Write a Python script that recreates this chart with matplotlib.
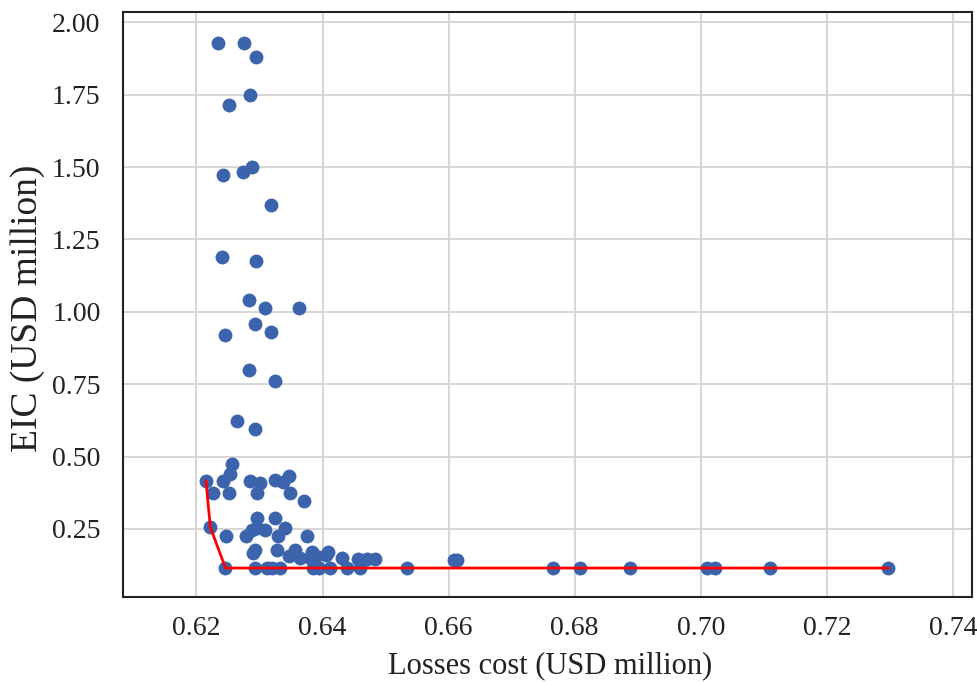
import matplotlib
matplotlib.use("Agg")
import matplotlib.pyplot as plt

# Candidate solutions: losses cost vs EIC (both USD million)
losses_cost = [
    0.6234, 0.6276, 0.6295, 0.6285, 0.6252, 0.6288, 0.6274, 0.6242, 0.6318,
    0.6240, 0.6295, 0.6283, 0.6308, 0.6363, 0.6293, 0.6245, 0.6318, 0.6283,
    0.6325, 0.6264, 0.6293,
    0.6257, 0.6253, 0.6215, 0.6242, 0.6285, 0.6301, 0.6324, 0.6338, 0.6346,
    0.6226, 0.6251, 0.6296, 0.6348, 0.6371,
    0.6222, 0.6296, 0.6325, 0.6296, 0.6309, 0.6288, 0.6278, 0.6247, 0.6330,
    0.6340, 0.6375,
    0.6293, 0.6290, 0.6328, 0.6357, 0.6383, 0.6409, 0.6346, 0.6365, 0.6390,
    0.6431, 0.6457, 0.6483, 0.6470, 0.6405, 0.6380, 0.6608, 0.6614,
    0.6246, 0.6293, 0.6312, 0.6320, 0.6333, 0.6385, 0.6395, 0.6412, 0.6439,
    0.6460, 0.6534, 0.6765, 0.6809, 0.6888, 0.7010, 0.7023, 0.7110, 0.7297,
]
eic = [
    1.929, 1.929, 1.881, 1.750, 1.715, 1.500, 1.483, 1.471, 1.369,
    1.188, 1.175, 1.040, 1.013, 1.013, 0.958, 0.919, 0.930, 0.798,
    0.762, 0.624, 0.596,
    0.474, 0.439, 0.416, 0.416, 0.416, 0.408, 0.420, 0.413, 0.433,
    0.374, 0.374, 0.374, 0.374, 0.348,
    0.256, 0.288, 0.288, 0.253, 0.247, 0.247, 0.225, 0.227, 0.225,
    0.253, 0.225,
    0.178, 0.166, 0.178, 0.178, 0.172, 0.172, 0.155, 0.150, 0.155,
    0.150, 0.145, 0.145, 0.145, 0.160, 0.150, 0.142, 0.142,
    0.115, 0.115, 0.115, 0.115, 0.115, 0.115, 0.115, 0.115, 0.115,
    0.115, 0.115, 0.115, 0.115, 0.115, 0.115, 0.115, 0.115, 0.115,
]

# Pareto front
front_cost = [0.6215, 0.6222, 0.6246, 0.7297]
front_eic = [0.416, 0.256, 0.115, 0.115]

x_ticks = [0.62, 0.64, 0.66, 0.68, 0.70, 0.72, 0.74]
y_ticks = [0.25, 0.50, 0.75, 1.00, 1.25, 1.50, 1.75, 2.00]

plt.rcParams["font.family"] = ["Liberation Serif", "DejaVu Serif"]
text_color = "#222222"

fig = plt.figure(figsize=(9.78, 6.82), dpi=100)
ax = fig.add_axes([0.1255, 0.1251, 0.8681, 0.8569])

ax.grid(True, color="#d3d3d3", linewidth=1.3, zorder=0)
ax.set_axisbelow(True)
ax.scatter(losses_cost, eic, s=100, color="#3c64ad", zorder=2, linewidths=0)
ax.plot(front_cost, front_eic, color="red", linewidth=2.0, zorder=3)

ax.set_xlim(0.6083, 0.7430)
ax.set_ylim(0.0161, 2.0345)
ax.set_xticks(x_ticks)
ax.set_xticklabels([f"{v:.2f}" for v in x_ticks])
ax.set_yticks(y_ticks)
ax.set_yticklabels([f"{v:.2f}" for v in y_ticks])
ax.tick_params(length=0, labelsize=20, colors=text_color)
ax.tick_params(axis="x", pad=14)
ax.tick_params(axis="y", pad=16)

for sp in ax.spines.values():
    sp.set_color("#222222")
    sp.set_linewidth(1.5)

fig.text(550 / 978, 1 - 666 / 682, "Losses cost (USD million)", fontsize=22,
         color=text_color, ha="center", va="center")
fig.text(28 / 978, 1 - 308 / 682, "EIC (USD million)", fontsize=27,
         color=text_color, ha="center", va="center", rotation=90)

fig.savefig("out.png", dpi=100)
